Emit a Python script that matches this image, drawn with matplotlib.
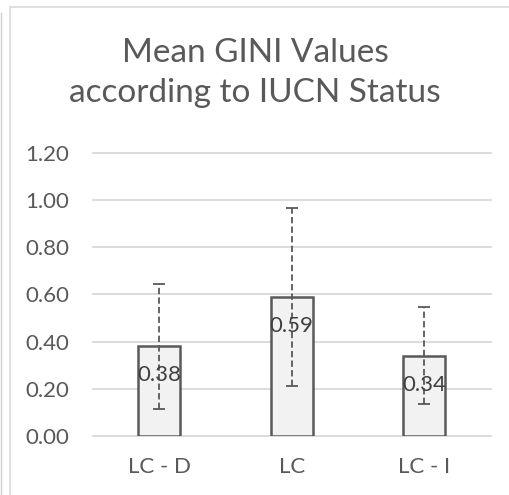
import matplotlib.pyplot as plt
from matplotlib.patches import Rectangle
from matplotlib.lines import Line2D

# data
categories = ['LC - D', 'LC', 'LC - I']
means = [0.38, 0.59, 0.34]
errors = [0.265, 0.377, 0.205]
yticks = [0.0, 0.2, 0.4, 0.6, 0.8, 1.0, 1.2]

txt = '#595959'
plt.rcParams['font.family'] = ['Lato', 'DejaVu Sans']

fig = plt.figure(figsize=(5.1, 4.95), dpi=100)
ax = fig.add_axes([92.7 / 510, 1 - 436 / 495, 398 / 510, 283.3 / 495])

# chart area frame
fig.patches.append(Rectangle((10 / 510, -0.1), 2, 1 - 7 / 495 + 0.1,
                             transform=fig.transFigure, fill=False,
                             edgecolor='#D9D9D9', lw=1.2))
fig.lines.append(Line2D([1.5 / 510, 1.5 / 510], [-0.1, 1 - 13 / 495],
                        transform=fig.transFigure, color='#D0D0D0', lw=1))

x = range(len(categories))
bars = ax.bar(x, means, width=0.316, color='#F2F2F2', edgecolor='#595959',
              linewidth=1.8, zorder=3)
eb = ax.errorbar(x, means, yerr=errors, fmt='none', ecolor='#595959',
                 elinewidth=1.3, capsize=4.5, capthick=1.3, zorder=4)
for lc in eb[2]:
    lc.set_linestyle((0, (3.5, 1.8)))

for xi, m in zip(x, means):
    ax.annotate(f'{m:.2f}', (xi, m), xytext=(0, -21), textcoords='offset points',
                ha='center', va='center', fontsize=16, color='#404040', zorder=5)

ax.set_xlim(-0.5, 2.5)
ax.set_ylim(0, 1.2)
ax.set_yticks(yticks)
ax.set_yticklabels([f'{t:.2f}' for t in yticks])
ax.set_xticks(list(x))
ax.set_xticklabels(categories)
ax.tick_params(length=0, labelsize=16, labelcolor=txt)
ax.tick_params(axis='y', pad=17)
ax.tick_params(axis='x', pad=15)
ax.grid(axis='y', color='#D9D9D9', lw=1.3, zorder=0)
ax.set_axisbelow(True)
for gl in ax.get_ygridlines():
    gl.set_clip_on(False)
for s in ax.spines.values():
    s.set_visible(False)

fig.text(0.5, 1 - 73 / 495, 'Mean GINI Values\naccording to IUCN Status',
         ha='center', va='center', fontsize=24, color=txt, linespacing=1.4)

fig.savefig('out.png', dpi=100)
